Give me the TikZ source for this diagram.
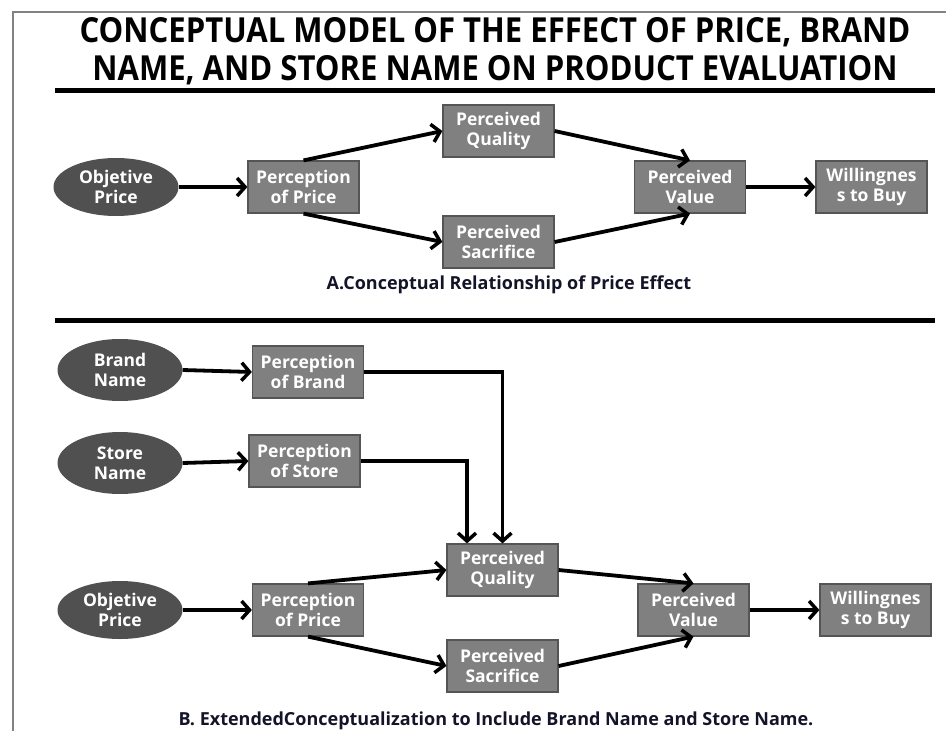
\documentclass[tikz,border=0pt]{standalone}
\usepackage{fontspec}
\setmainfont{Open Sans}
\newfontfamily\titlefont{Open Sans}[FakeStretch=0.9]
\usetikzlibrary{shapes.geometric,arrows.meta}
\definecolor{boxfill}{RGB}{128,128,128}
\definecolor{boxline}{RGB}{85,85,85}
\definecolor{ellfill}{RGB}{80,80,80}
\definecolor{framegray}{RGB}{130,130,130}
\definecolor{capcol}{RGB}{20,20,40}
\begin{document}
\begin{tikzpicture}[x=1pt,y=-1pt,
  pbox/.style={draw=boxline,line width=1.2pt,fill=boxfill,rectangle,minimum width=111pt,minimum height=52pt,inner sep=0pt,align=center,text=white,font=\bfseries\fontsize{17.5}{20.5}\selectfont},
  pell/.style={ellipse,fill=ellfill,minimum width=125pt,minimum height=58pt,inner sep=0pt,align=center,text=white,font=\bfseries\fontsize{17.5}{20.5}\selectfont},
  arr/.style={line width=3.8pt,-{Straight Barb[length=8pt,width=18pt,line width=3.5pt]}},
  rule/.style={line width=5pt},
  captxt/.style={text=capcol,font=\bfseries\fontsize{18}{21}\selectfont}
]
\useasboundingbox (0,0) rectangle (946,731);
% frame
\draw[framegray,line width=1.5pt] (13,731) -- (13,12) -- (946,12);
% title
\node (title) at (495,51) [align=center,font=\titlefont\bfseries\fontsize{34.5}{38.5}\selectfont] {CONCEPTUAL MODEL OF THE EFFECT OF PRICE, BRAND\\NAME, AND STORE NAME ON PRODUCT EVALUATION};
\coordinate (r1a) at (55,90); \coordinate (r1b) at (935,90);
\draw[rule] (r1a) -- (r1b);
% section A
\node[pell] (op) at (116,187) {Objetive\\Price};
\node[pbox] (pp) at (303.5,187) {Perception\\of Price};
\node[pbox] (pq) at (498.5,131) {Perceived\\Quality};
\node[pbox] (ps) at (498.5,242) {Perceived\\Sacrifice};
\node[pbox] (pv) at (690,187) {Perceived\\Value};
\node[pbox] (wb) at (871.5,187) {Willingnes\\s to Buy};
\draw[arr] (op.east) -- (pp.west);
\draw[arr] (pp.north) -- (pq.west);
\draw[arr] (pp.south) -- (ps.west);
\draw[arr] (pq.east) -- (pv.north);
\draw[arr] (ps.east) -- (pv.south);
\draw[arr] (pv.east) -- (wb.west);
\node[captxt] (capA) at (509,285) {A.Conceptual Relationship of Price Effect};
\coordinate (r2a) at (55,320); \coordinate (r2b) at (935,320);
\draw[rule] (r2a) -- (r2b);
% section B
\node[pell,minimum height=62pt] (bn) at (120,370) {Brand\\Name};
\node[pbox] (pb) at (308,372) {Perception\\of Brand};
\node[pell,minimum height=62pt] (sn) at (120,463) {Store\\Name};
\node[pbox] (pst) at (304.5,461) {Perception\\of Store};
\node[pell] (op2) at (120,610) {Objetive\\Price};
\node[pbox] (pp2) at (308,610) {Perception\\of Price};
\node[pbox] (pq2) at (502.5,570) {Perceived\\Quality};
\node[pbox] (ps2) at (502.5,666) {Perceived\\Sacrifice};
\node[pbox] (pv2) at (693.5,610) {Perceived\\Value};
\node[pbox] (wb2) at (875.5,610) {Willingnes\\s to Buy};
\draw[arr] (bn.east) -- (pb.west);
\draw[arr] (sn.east) -- (pst.west);
\draw[arr] (pb.east) -| (pq2.north);
\draw[arr] (pst.east) -| ([xshift=-35.5pt]pq2.north);
\draw[arr] (op2.east) -- (pp2.west);
\draw[arr] (pp2.north) -- (pq2.west);
\draw[arr] (pp2.south) -- (ps2.west);
\draw[arr] (pq2.east) -- (pv2.north);
\draw[arr] (ps2.east) -- (pv2.south);
\draw[arr] (pv2.east) -- (wb2.west);
\node[captxt] (capB) at (496,721) {B. ExtendedConceptualization to Include Brand Name and Store Name.};
\end{tikzpicture}
\end{document}
